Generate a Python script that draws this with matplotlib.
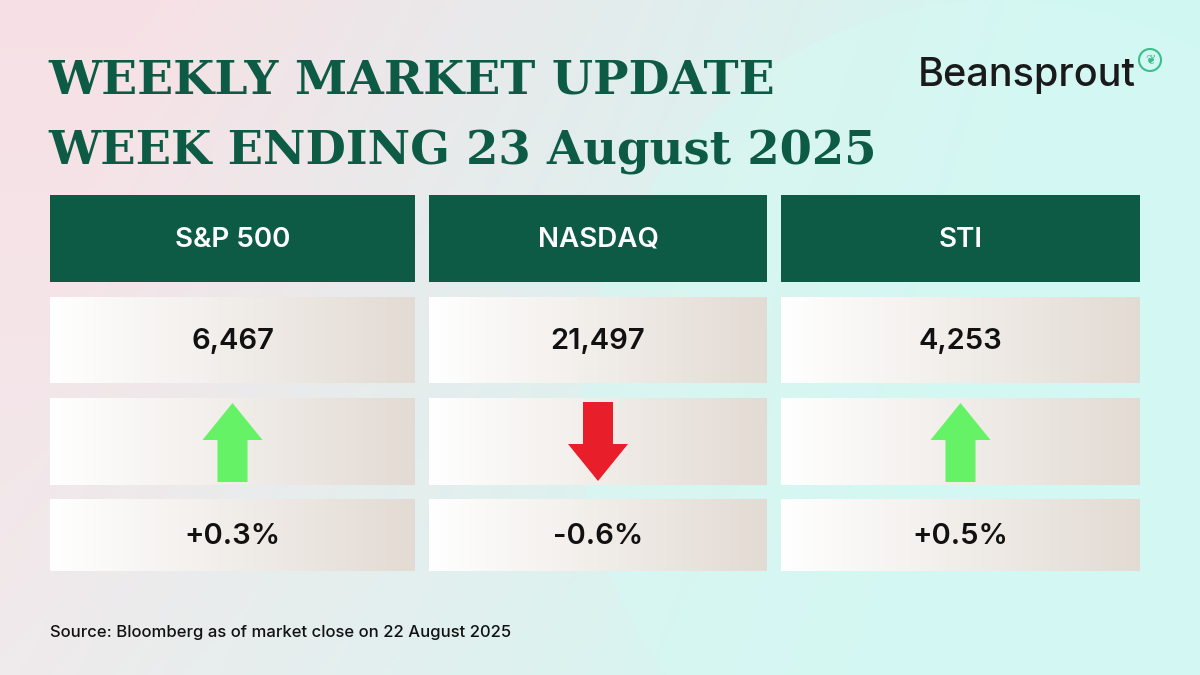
import numpy as np
import matplotlib
matplotlib.use("Agg")
import matplotlib.pyplot as plt
from matplotlib.patches import Rectangle, Polygon, Circle

title1 = "WEEKLY MARKET UPDATE"
title2 = "WEEK ENDING 23 August 2025"
indices = ["S&P 500", "NASDAQ", "STI"]
levels = ["6,467", "21,497", "4,253"]
changes = [0.3, -0.6, 0.5]
source = "Source: Bloomberg as of market close on 22 August 2025"

fig = plt.figure(figsize=(12, 6.75), dpi=100)
ax = fig.add_axes([0, 0, 1, 1])
ax.set_xlim(0, 1200); ax.set_ylim(675, 0); ax.axis("off")

# background gradient
xx = np.linspace(0, 1, 300)[None, :]
yy = np.linspace(0, 1, 170)[:, None]
pink = np.array([0.97, 0.88, 0.90]); grey = np.array([0.93, 0.94, 0.94]); mint = np.array([0.82, 0.97, 0.95])
t = np.clip(xx * 1.3 - 0.15 + 0.2 * yy, 0, 1)[..., None]
img = pink * (1 - t) * (1 - yy[..., None] * 0.6) + grey * (1 - t) * yy[..., None] * 0.6 + mint * t
ax.imshow(img, extent=[0, 1200, 675, 0], aspect="auto", zorder=0)
ax.add_patch(Circle((1000, 420), 420, color="#d6f8f3", alpha=0.6, zorder=0.5, lw=0))

green = "#0d5a45"
ax.text(48, 80, title1, fontfamily="DejaVu Serif", fontweight="bold", fontsize=34, color=green, va="center", ha="left")
ax.text(48, 152, title2, fontfamily="DejaVu Serif", fontweight="bold", fontsize=33.5, color=green, va="center", ha="left")
ax.text(918, 75, "Beansprout", fontfamily="Inter", fontweight="medium", fontsize=28.5, color="#1a1a1a", va="center", ha="left")
ax.add_patch(Circle((1150, 60), 11, fill=False, ec="#3bbf8a", lw=1.5))
ax.text(1150, 61, "❦", fontsize=9, color="#3bbf8a", ha="center", va="center")

cols = [(50, 415), (429, 767), (781, 1140)]
rows = [(297, 383), (398, 485), (499, 571)]
for i, (x0, x1) in enumerate(cols):
    cx = (x0 + x1) / 2
    ax.add_patch(Rectangle((x0, 195), x1 - x0, 87, color=green, zorder=2, lw=0))
    ax.text(cx, 240, indices[i], fontfamily="Inter", fontweight="semibold", fontsize=20, color="white", ha="center", va="center", zorder=3)
    for (y0, y1) in rows:
        g = np.linspace(0, 1, 100)[None, :, None]
        c = np.array([1, 1, 1]) * (1 - g) + np.array([0.89, 0.86, 0.83]) * g
        c = np.repeat(c, 2, axis=0)
        ax.imshow(c, extent=[x0, x1, y1, y0], aspect="auto", zorder=2)
    ax.text(cx, 341, levels[i], fontfamily="Inter", fontweight="semibold", fontsize=21, color="#111", ha="center", va="center", zorder=3)
    ax.text(cx, 536, f"{changes[i]:+.1f}%", fontfamily="Inter", fontweight="semibold", fontsize=21, color="#111", ha="center", va="center", zorder=3)
    if changes[i] >= 0:
        pts = [(cx - 30, 440), (cx, 403), (cx + 30, 440), (cx + 15, 440), (cx + 15, 482), (cx - 15, 482), (cx - 15, 440)]
        col = "#66f266"
    else:
        pts = [(cx - 30, 444), (cx, 481), (cx + 30, 444), (cx + 15, 444), (cx + 15, 402), (cx - 15, 402), (cx - 15, 444)]
        col = "#e81f2a"
    ax.add_patch(Polygon(pts, closed=True, color=col, zorder=3, lw=0))

ax.text(50, 632, source, fontfamily="Inter", fontweight="medium", fontsize=12, color="#111", ha="left", va="center")
fig.savefig("out.png", dpi=100)
